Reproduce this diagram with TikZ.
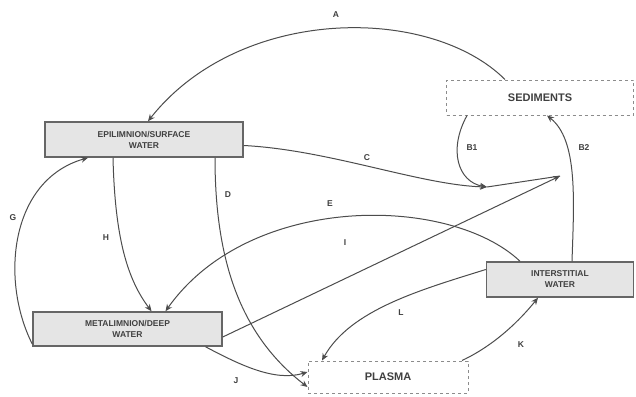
\documentclass[tikz,border=0pt]{standalone}
\usepackage{fontspec}
\setmainfont{Liberation Sans}
\usetikzlibrary{arrows.meta,calc}
\begin{document}
\begin{tikzpicture}[x=1pt,y=-1pt,
  solidbox/.style={draw=black!60,line width=1.5pt,fill=black!10,inner sep=0pt,align=center,font=\fontsize{8.5}{11}\selectfont\bfseries,text=black!75},
  dashbox/.style={draw=black!45,dashed,line width=1pt,inner sep=0pt,font=\fontsize{11}{13}\selectfont\bfseries,text=black!75},
  flow/.style={draw=black!70,line width=1pt,-{Stealth[length=7pt,width=6pt]}},
  plain/.style={draw=black!70,line width=1pt},
  lab/.style={font=\fontsize{8.5}{10}\selectfont\bfseries,text=black!75,inner sep=1pt}]
\useasboundingbox (0,0) rectangle (636,396);
\fill[white] (0,0) rectangle (636,396);
% compartments
\node[solidbox,minimum width=198pt,minimum height=35pt] (TL) at (144,139.5) {EPILIMNION/SURFACE\\WATER};
\node[dashbox,minimum width=187pt,minimum height=35pt] (SED) at (540,97.5) {SEDIMENTS};
\node[solidbox,minimum width=189pt,minimum height=34pt] (BL) at (127.5,329) {METALIMNION/DEEP\\WATER};
\node[solidbox,minimum width=147pt,minimum height=35pt] (RB) at (560,279.5) {INTERSTITIAL\\WATER};
\node[dashbox,minimum width=160pt,minimum height=32pt] (BOT) at (388,377) {PLASMA};
% junctions
\coordinate (j1) at (487,187);
\coordinate (j2) at (560,176);
% connectors
\draw[flow] ([xshift=-35pt]SED.north) .. controls (430,5) and (240,5) .. ([xshift=4pt]TL.north);
\draw[flow] ([yshift=-6pt]TL.east) .. controls (330,150) and (420,185) .. (j1);
\draw[flow] ([xshift=-73pt]SED.south) .. controls (448,150) and (458,182) .. (j1);
\draw[plain] (j1) -- (j2);
\draw[flow] ([xshift=12pt]RB.north) .. controls (574,200) and (578,140) .. ([xshift=7pt]SED.south);
\draw[flow] ([yshift=-8pt]BL.east) -- (j2);
\draw[flow] ([xshift=-40pt]RB.north) .. controls (450,195) and (250,192) .. ([xshift=38pt]BL.north);
\draw[flow] ([xshift=71pt]TL.south) .. controls (215,260) and (240,335) .. ([yshift=-10pt]BOT.west);
\draw[flow] ([xshift=-31pt]TL.south) .. controls (115,240) and (128,280) .. ([xshift=24pt]BL.north);
\draw[flow] ([yshift=-15pt]BL.west) .. controls (0,280) and (10,180) .. ([xshift=-56pt]TL.south);
\draw[flow] ([xshift=78pt]BL.south) .. controls (240,365) and (275,382) .. ([yshift=5pt]BOT.west);
\draw[flow] ([yshift=10pt]RB.west) .. controls (420,290) and (350,310) .. ([xshift=-66pt]BOT.north);
\draw[flow] ([xshift=74pt]BOT.north) .. controls (495,345) and (520,320) .. ([xshift=-22pt]RB.south);
% labels
\node[lab] (lA) at (336,15) {A};
\node[lab] (lB1) at (472,148) {B1};
\node[lab] (lB2) at (584,148) {B2};
\node[lab] (lC) at (367,158) {C};
\node[lab] (lD) at (228,195) {D};
\node[lab] (lE) at (330,204) {E};
\node[lab] (lG) at (13,218) {G};
\node[lab] (lH) at (106,238) {H};
\node[lab] (lI) at (345,243) {I};
\node[lab] (lJ) at (236,381) {J};
\node[lab] (lK) at (521,345) {K};
\node[lab] (lL) at (401,313) {L};
\end{tikzpicture}
\end{document}
